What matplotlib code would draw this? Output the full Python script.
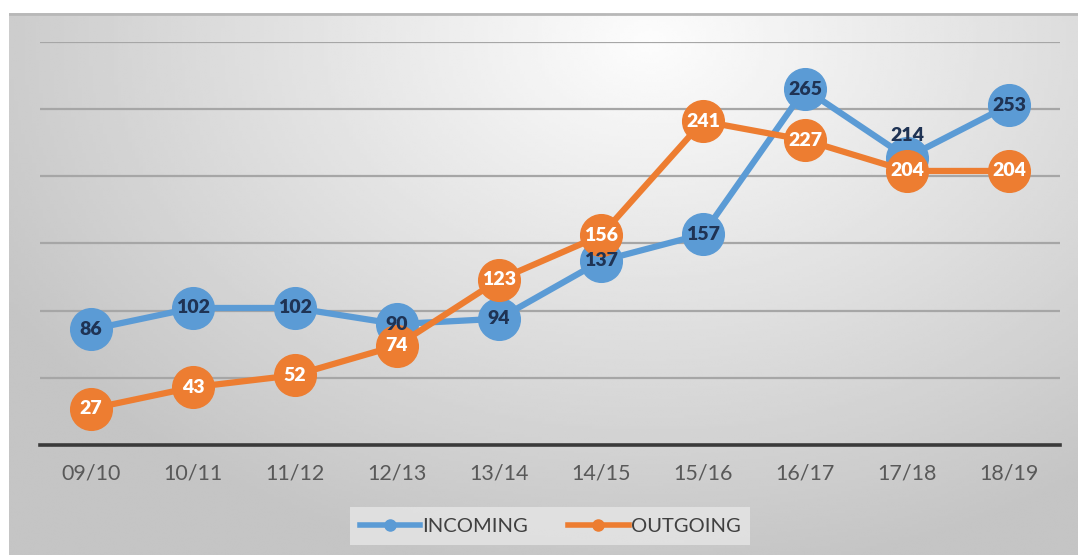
import numpy as np
import matplotlib.pyplot as plt
from matplotlib.lines import Line2D

# data
years = ['09/10', '10/11', '11/12', '12/13', '13/14',
         '14/15', '15/16', '16/17', '17/18', '18/19']
incoming = [86, 102, 102, 90, 94, 137, 157, 265, 214, 253]
outgoing = [27, 43, 52, 74, 123, 156, 241, 227, 204, 204]

blue = '#5B9BD5'
orange = '#ED7D31'
navy = '#1F3354'

plt.rcParams['font.family'] = ['Lato', 'DejaVu Sans']

fig = plt.figure(figsize=(10.78, 5.55), dpi=100)

# gradient frame behind the chart
bg = fig.add_axes([9 / 1078, 0, 1 - 9 / 1078, 1 - 13 / 555], zorder=0)
gx, gy = np.meshgrid(np.linspace(0, 1, 300), np.linspace(0, 1, 200))
r = np.sqrt(((gx - 0.6) / 0.7) ** 2 + ((gy - 0.05) / 1.0) ** 2)
shade = np.clip(0.99 - 0.22 * r, 0.77, 1.0)
bg.imshow(shade, cmap='gray', vmin=0, vmax=1, aspect='auto',
          extent=[0, 1, 1, 0], interpolation='bilinear')
bg.plot([0, 1], [0.002, 0.002], color='#b8b8b8', lw=2)
bg.set_xlim(0, 1)
bg.set_ylim(1, 0)
bg.axis('off')

ax = fig.add_axes([40 / 1078, 1 - 445 / 555, 1020 / 1078, (445 - 42) / 555],
                  zorder=1)
ax.patch.set_alpha(0)
x = np.arange(len(years))

ax.plot(x, incoming, color=blue, lw=4.5, marker='o', ms=30,
        mec=blue, mfc=blue, zorder=3, solid_capstyle='round')
ax.plot(x, outgoing, color=orange, lw=4.5, marker='o', ms=30,
        mec=orange, mfc=orange, zorder=4, solid_capstyle='round')

for i, v in enumerate(incoming):
    dy = 16 if years[i] == '17/18' else 0
    ax.annotate(str(v), (i, v), xytext=(0, dy), textcoords='offset points',
                ha='center', va='center', fontsize=14, fontweight='heavy',
                color=navy, zorder=6)
for i, v in enumerate(outgoing):
    ax.text(i, v, str(v), ha='center', va='center', fontsize=14,
            fontweight='heavy', color='white', zorder=6)

ax.set_xlim(-0.5, len(years) - 0.5)
ax.set_ylim(0, 300)
ax.set_yticks(np.arange(50, 301, 50))
ax.yaxis.grid(True, color='#a6a6a6', lw=1.6)
ax.set_axisbelow(True)
ax.tick_params(axis='y', left=False, labelleft=False)
ax.set_xticks(x)
ax.set_xticklabels(years, fontsize=15.5, color='#595959')
ax.tick_params(axis='x', length=0, pad=13)
for s in ['top', 'right', 'left']:
    ax.spines[s].set_visible(False)
ax.spines['bottom'].set_color('#3a3a3a')
ax.spines['bottom'].set_linewidth(2.6)

handles = [Line2D([], [], color=blue, lw=4, marker='o', ms=8),
           Line2D([], [], color=orange, lw=4, marker='o', ms=8)]
leg = fig.legend(handles, ['INCOMING', 'OUTGOING'], loc='center',
                 bbox_to_anchor=(550 / 1078, 1 - 526 / 555), ncol=2,
                 frameon=True, fancybox=False, fontsize=14.5,
                 handlelength=3.0, handletextpad=0.1, columnspacing=2.0,
                 borderpad=0.5)
leg.get_frame().set_facecolor('#e6e6e6')
leg.get_frame().set_edgecolor('none')
leg.get_frame().set_alpha(0.8)
for t in leg.get_texts():
    t.set_color('#404040')

fig.savefig('out.png', dpi=100)
